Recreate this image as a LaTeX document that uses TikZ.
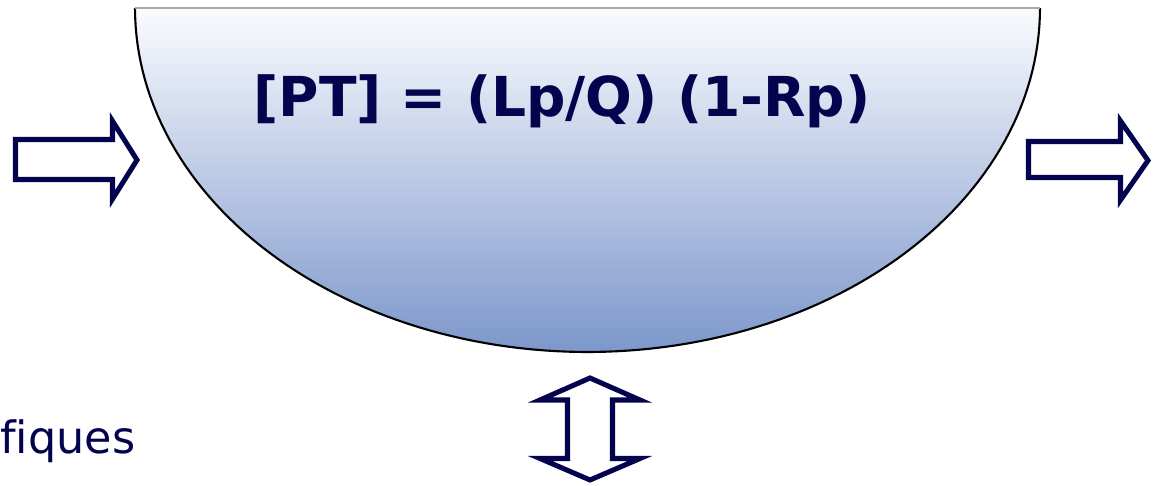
\documentclass[tikz,border=0pt]{standalone}
\usepackage{fontspec}
\setmainfont[Ligatures=NoCommon]{DejaVu Sans}
\definecolor{navy}{RGB}{4,4,78}
\definecolor{bowltop}{RGB}{250,251,254}
\definecolor{bowlbot}{RGB}{124,151,203}
\definecolor{rimgray}{RGB}{170,170,170}
\tikzset{
  blockarrow/.style={draw=navy, line width=4.3pt, fill=white, line join=miter},
  formula/.style={text=navy, font=\fontsize{47}{52}\selectfont\bfseries, inner sep=0pt, anchor=base},
  sidetext/.style={text=navy, font=\fontsize{38}{44}\selectfont, inner sep=0pt, anchor=base west}
}
\begin{document}
\begin{tikzpicture}[x=0.03cm,y=-0.03cm]
\useasboundingbox (0,0) rectangle (1158,486);
% bowl
\shade[top color=bowltop, bottom color=bowlbot]
  plot[domain=180:360, samples=120] ({587.5+452.5*cos(\x)}, {8-344*sin(\x)}) -- cycle;
\draw[black, line width=1.8pt]
  plot[domain=180:360, samples=120] ({587.5+452.5*cos(\x)}, {8-344*sin(\x)});
\draw[rimgray, line width=1pt] (135,8) -- (1040,8);
\node[formula] (eq) at (562,117) {[PT] = (Lp/Q) (1-Rp)};
% left arrow
\draw[blockarrow] (15.5,139.5) -- (112.5,139.5) -- (112.5,121) -- (137,160) -- (112.5,199) -- (112.5,179.5) -- (15.5,179.5) -- cycle;
% right arrow
\draw[blockarrow] (1028.5,141.5) -- (1120.5,141.5) -- (1120.5,121) -- (1148,160.5) -- (1120.5,200) -- (1120.5,177.5) -- (1028.5,177.5) -- cycle;
% vertical double arrow
\draw[blockarrow] (590,378) -- (640,400) -- (612.5,400) -- (612.5,458.5) -- (640,458.5) -- (590,480) -- (540,458.5) -- (567.5,458.5) -- (567.5,400) -- (540,400) -- cycle;
% side text
\node[sidetext] (side) at (0,453) {fiques};
\end{tikzpicture}
\end{document}
